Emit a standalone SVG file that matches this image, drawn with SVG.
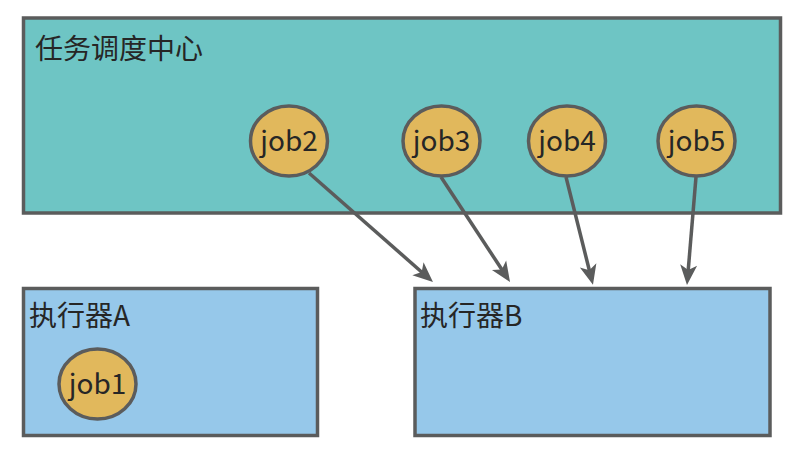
<svg xmlns="http://www.w3.org/2000/svg" width="792" height="454" viewBox="0 0 792 454">
<style>
.box{stroke:#5b5c5c;stroke-width:3.5}
.center{fill:#6ec5c4}
.exec{fill:#96c8ea}
.job{fill:#e1b85c;stroke:#5b5c5c;stroke-width:3.5}
.t{font-family:"Noto Sans CJK SC","Noto Sans","Liberation Sans",sans-serif;fill:#262626}
.title{font-size:28px}
.jt{font-size:28px;text-anchor:middle}
.edge{stroke:#5b5c5c;stroke-width:3.5;fill:none;marker-end:url(#ah)}
</style>
<defs>
<marker id="ah" markerUnits="userSpaceOnUse" markerWidth="22" markerHeight="18" refX="9" refY="8.5" orient="auto" overflow="visible">
<path d="M0,0 L20,8.5 L0,17 L5,8.5 z" fill="#5b5c5c"/>
</marker>
</defs>
<rect width="792" height="454" fill="#ffffff"/>
<g id="center">
<rect class="box center" x="23.5" y="18" width="757" height="195"/>
<text class="t title" x="35" y="59">任务调度中心</text>
</g>
<g id="execA">
<rect class="box exec" x="23.5" y="288.5" width="294" height="147"/>
<text class="t title" x="29" y="326">执行器A</text>
</g>
<g id="execB">
<rect class="box exec" x="415" y="288.5" width="355" height="147"/>
<text class="t title" x="420" y="326">执行器B</text>
</g>
<g id="job1">
<ellipse class="job" cx="97.5" cy="384" rx="38.5" ry="35"/>
<text class="t jt" x="97.5" y="394">job1</text>
</g>
<g id="job2">
<ellipse class="job" cx="289" cy="141" rx="38.5" ry="35"/>
<text class="t jt" x="289" y="151">job2</text>
</g>
<g id="job3">
<ellipse class="job" cx="441.5" cy="141" rx="38.5" ry="35"/>
<text class="t jt" x="441.5" y="151">job3</text>
</g>
<g id="job4">
<ellipse class="job" cx="567" cy="141" rx="38.5" ry="35"/>
<text class="t jt" x="567" y="151">job4</text>
</g>
<g id="job5">
<ellipse class="job" cx="696.5" cy="141" rx="38.5" ry="35"/>
<text class="t jt" x="696.5" y="151">job5</text>
</g>
<g id="connectors">
<line class="edge" x1="309" y1="173" x2="424.7" y2="274.7"/>
<line class="edge" x1="441" y1="177" x2="504" y2="272.8"/>
<line class="edge" x1="566" y1="177" x2="590.3" y2="274.1"/>
<line class="edge" x1="696" y1="177" x2="687.9" y2="274"/>
</g>
</svg>
